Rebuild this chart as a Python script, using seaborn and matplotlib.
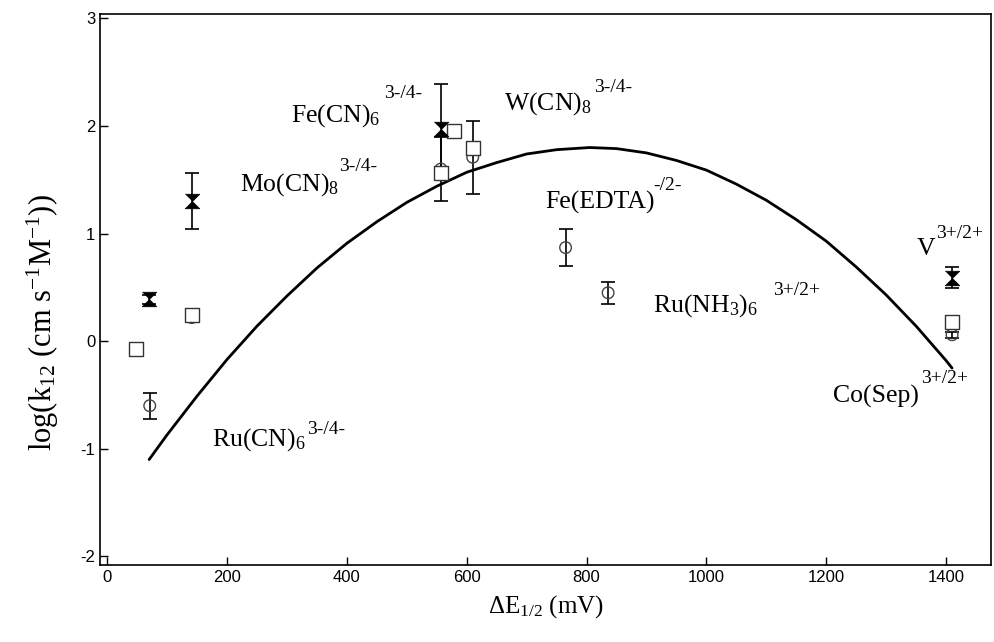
import matplotlib
matplotlib.use("Agg")
import matplotlib.pyplot as plt
import pandas as pd
import seaborn as sns

# fitted curve
curve_x = [70, 100, 150, 200, 250, 300, 350, 400, 450, 500, 550, 600, 650, 700, 750, 805,
           850, 900, 950, 1000, 1050, 1100, 1150, 1200, 1250, 1300, 1350, 1400, 1410]
curve_y = [-1.10, -0.87, -0.51, -0.17, 0.14, 0.42, 0.68, 0.91, 1.11, 1.29, 1.44, 1.57, 1.66, 1.74, 1.78, 1.80,
           1.79, 1.75, 1.68, 1.59, 1.46, 1.31, 1.13, 0.93, 0.69, 0.43, 0.14, -0.18, -0.25]

# filled hourglass points
bow_x = [70, 141, 557, 1410]
bow_y = [0.39, 1.30, 1.97, 0.59]
bow_err = [0.04, 0.26, 0.42, 0.10]

# open squares
sq_x = [48, 141, 578, 557, 610, 1410]
sq_y = [-0.07, 0.24, 1.95, 1.56, 1.80, 0.18]
sq_err = [0.0, 0.03, 0.0, 0.04, 0.0, 0.04]

# open circles
ci_x = [71, 141, 557, 610, 765, 836, 1410]
ci_y = [-0.60, 0.22, 1.60, 1.71, 0.87, 0.45, 0.06]
ci_err = [0.12, 0.03, 0.30, 0.34, 0.17, 0.10, 0.03]

# couple labels: main text, superscript, positions
lab_main = [r"Fe(CN)$_6$", r"Mo(CN)$_8$", r"W(CN)$_8$", "Fe(EDTA)", r"Ru(NH$_3$)$_6$", "V", "Co(Sep)", r"Ru(CN)$_6$"]
lab_sup = ["3-/4-", "3-/4-", "3-/4-", "-/2-", "3+/2+", "3+/2+", "3+/2+", "3-/4-"]
lab_xy = [(307, 2.10), (221, 1.46), (662, 2.21), (731, 1.29), (911, 0.33), (1351, 0.86), (1212, -0.51), (175, -0.91)]
sup_xy = [(462, 2.30), (387, 1.62), (813, 2.36), (911, 1.45), (1112, 0.47), (1383, 1.00), (1358, -0.35), (334, -0.82)]

sns.set_theme(style="ticks", rc={"xtick.direction": "in", "ytick.direction": "in"})
plt.rcParams["font.family"] = ["Liberation Sans", "DejaVu Sans"]
plt.rcParams["mathtext.fontset"] = "custom"
plt.rcParams["mathtext.rm"] = "Liberation Serif"
plt.rcParams["mathtext.it"] = "Liberation Serif:italic"
plt.rcParams["axes.unicode_minus"] = False
plt.rcParams["text.color"] = "black"
plt.rcParams["axes.labelcolor"] = "black"
plt.rcParams["xtick.color"] = "black"
plt.rcParams["ytick.color"] = "black"
serif = ["Liberation Serif", "DejaVu Serif"]

fig = plt.figure(figsize=(9.94, 6.42), dpi=100)
ax = fig.add_axes([0.1006, 0.120, 0.8964, 0.858])

curve = pd.DataFrame({"x": curve_x, "y": curve_y})
sns.lineplot(data=curve, x="x", y="y", ax=ax, color="black", lw=2.0, sort=False)

err_kw = dict(fmt="none", ecolor="black", elinewidth=1.2, capsize=5, capthick=1.2, zorder=3)
ax.errorbar(bow_x, bow_y, yerr=bow_err, **err_kw)
ax.errorbar(ci_x, ci_y, yerr=ci_err, **err_kw)
ax.errorbar(sq_x, sq_y, yerr=sq_err, **err_kw)

hourglass = [(-1, 1), (1, 1), (0, 0), (1, -1), (-1, -1), (0, 0)]
sns.scatterplot(x=ci_x, y=ci_y, ax=ax, marker="o", s=70, facecolor="none",
                edgecolor="#444444", linewidth=1.0, zorder=4)
sns.scatterplot(x=sq_x, y=sq_y, ax=ax, marker="s", s=90, facecolor="white",
                edgecolor="#333333", linewidth=1.0, zorder=4)
sns.scatterplot(x=bow_x, y=bow_y, ax=ax, marker=hourglass, s=110, color="black",
                edgecolor="black", linewidth=0.5, zorder=5)

for txt, (x, y) in zip(lab_main, lab_xy):
    ax.text(x, y, txt, fontsize=18.5, family=serif, va="center", ha="left")
for txt, (x, y) in zip(lab_sup, sup_xy):
    ax.text(x, y, txt, fontsize=14, family=serif, va="center", ha="left")

ax.set_xlim(-12, 1475)
ax.set_ylim(-2.08, 3.04)
ax.set_xticks(range(0, 1401, 200))
ax.set_yticks(range(-2, 4))
ax.tick_params(labelsize=12, length=6, width=1.0, top=False, right=False)
for s in ax.spines.values():
    s.set_linewidth(1.2)
    s.set_color("black")

ax.set_xlabel(r"$\Delta$E$_{1/2}$ (mV)", fontsize=18, family=serif, labelpad=6)
ax.set_ylabel(r"log(k$_{12}$ (cm s$^{-1}$M$^{-1}$))", fontsize=22, family=serif, va="center")
ax.yaxis.set_label_coords(-0.064, 0.44)

fig.savefig("out.png", dpi=100)
